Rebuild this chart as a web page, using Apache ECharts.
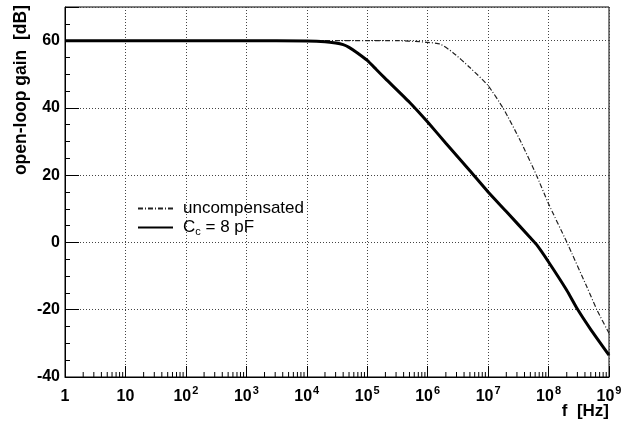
<!DOCTYPE html>
<html>
<head>
<meta charset="utf-8">
<script src="https://cdn.jsdelivr.net/npm/echarts@6/dist/echarts.min.js"></script>
<style>
html,body{margin:0;padding:0;background:#fff;}
#c{width:633px;height:425px;}
</style>
</head>
<body>
<div id="c"></div>
<script>
// Data
var seriesNames = ['uncompensated', 'C_c = 8 pF'];
var uncompFreq = [1, 10, 100, 1e3, 1e4, 1e5, 3e5, 7.4e5, 1e6, 1.6e6, 2.6e6, 5e6, 1e7, 1.8e7, 3.4e7, 6.3e7, 1e8, 2e8, 4.3e8, 6.3e8, 1e9];
var uncompDB   = [60, 60, 60, 60, 60, 60, 60, 59.7, 59.5, 59.0, 56.5, 52.0, 46.6, 39.7, 30.3, 20.0, 11.5, 0.1, -13.2, -20.0, -27.0];
var compFreq = [1, 10, 100, 1e3, 1e4, 2e4, 3e4, 4e4, 5e4, 6.8e4, 1e5, 1.4e5, 2e5, 5e5, 1e6, 2e6, 5e6, 1e7, 2e7, 5e7, 6.3e7, 1e8, 2e8, 3e8, 5e8, 1e9];
var compDB   = [60, 60, 60, 60, 59.9, 59.7, 59.3, 58.8, 58.0, 56.4, 54.1, 51.5, 48.7, 41.7, 35.8, 29.5, 21.3, 15.0, 9.2, 1.4, -0.6, -5.8, -14.2, -19.8, -25.9, -33.5];
var yTicks = [-40, -20, 0, 20, 40, 60];
var xDecades = [0, 1, 2, 3, 4, 5, 6, 7, 8, 9];

function zip(a, b) { return a.map(function (v, i) { return [v, b[i]]; }); }

// minor tick positions on the log axis (2..9 within each decade)
var minorTicks = [];
for (var d = 0; d < xDecades.length - 1; d++) {
  for (var k = 2; k <= 9; k++) minorTicks.push([k * Math.pow(10, xDecades[d]), -40]);
}

var FONT = 'Liberation Sans, Arial, Helvetica, sans-serif';
var chart = echarts.init(document.getElementById('c'), null, {renderer: 'canvas'});
chart.setOption({
  backgroundColor: '#fff',
  animation: false,
  grid: {left: 65, right: 24, top: 7, bottom: 48, show: true, borderColor: '#000', borderWidth: 1, containLabel: false},
  xAxis: {
    type: 'log', logBase: 10, min: 1, max: 1e9, splitNumber: 9,
    axisLine: {onZero: false, lineStyle: {color: '#000', width: 1}},
    axisTick: {inside: true, length: 11, lineStyle: {color: '#000'}},
    splitLine: {show: true, lineStyle: {color: '#444', type: [1, 2], width: 1}},
    axisLabel: {
      margin: 8, color: '#000', fontFamily: FONT,
      formatter: function (v) {
        var e = Math.round(Math.log10(v));
        if (e === 0) return '{b|1}';
        if (e === 1) return '{b|10}';
        return '{b|10}{s|' + e + '}';
      },
      rich: {
        b: {fontSize: 16, fontWeight: 'bold', fontFamily: FONT, color: '#000', verticalAlign: 'bottom', lineHeight: 20},
        s: {fontSize: 11, fontWeight: 'bold', fontFamily: FONT, color: '#000', verticalAlign: 'top', lineHeight: 11, padding: [0, 0, 0, 1]}
      }
    }
  },
  yAxis: [{
    type: 'value', min: -40, max: 70, interval: 20,
    axisLine: {show: true, lineStyle: {color: '#000', width: 1}},
    axisTick: {show: true, inside: true, length: 14, lineStyle: {color: '#000'}},
    splitLine: {show: true, lineStyle: {color: '#444', type: [1, 2], width: 1}},
    axisLabel: {
      margin: 5, color: '#000', fontSize: 16, fontWeight: 'bold', fontFamily: FONT,
      formatter: function (v) { return yTicks.indexOf(v) >= 0 ? String(v) : ''; }
    }
  }, {
    type: 'value', min: -40, max: 70, interval: 5, position: 'left',
    axisLine: {show: false}, axisLabel: {show: false}, splitLine: {show: false},
    axisTick: {show: true, inside: true, length: 5, lineStyle: {color: '#000'}}
  }],
  legend: {
    orient: 'vertical', left: 137, top: 200, padding: 0, itemWidth: 35, itemHeight: 12, itemGap: 2,
    data: seriesNames,
    itemStyle: {opacity: 0},
    textStyle: {
      fontSize: 17, fontFamily: FONT, color: '#000', padding: [0, 0, 0, 5],
      rich: {
        n: {fontSize: 17, fontFamily: FONT, color: '#000'},
        sub: {fontSize: 11, fontFamily: FONT, color: '#000', verticalAlign: 'bottom', padding: [8, 0, 0, 0]}
      }
    },
    formatter: function (name) {
      if (name === 'C_c = 8 pF') return '{n|C}{sub|c}{n| = 8 pF}';
      return name;
    }
  },
  graphic: [
    {type: 'text', x: 609, y: 411, style: {text: 'f  [Hz]', fontSize: 17, fontWeight: 'bold', fontFamily: FONT, fill: '#000', align: 'right', verticalAlign: 'middle'}},
    {type: 'text', x: 21, y: 5, rotation: Math.PI / 2, style: {text: 'open-loop gain  [dB]', fontSize: 17.5, fontWeight: 'bold', fontFamily: FONT, fill: '#000', align: 'right', verticalAlign: 'middle'}}
  ],
  series: [
    {
      name: seriesNames[0], type: 'line', data: zip(uncompFreq, uncompDB), showSymbol: false, symbol: 'none', smooth: 0.2,
      lineStyle: {color: '#222', width: 1.2, type: [5, 2, 1, 2]}, itemStyle: {color: '#222'}, z: 3
    },
    {
      name: seriesNames[1], type: 'line', data: zip(compFreq, compDB), showSymbol: false, symbol: 'none', smooth: 0.15,
      lineStyle: {color: '#000', width: 3}, itemStyle: {color: '#000'}, z: 4
    },
    {
      type: 'custom', silent: true, data: minorTicks, clip: false, z: 5,
      renderItem: function (params, api) {
        var p = api.coord([api.value(0), api.value(1)]);
        return {type: 'line', shape: {x1: p[0], y1: p[1], x2: p[0], y2: p[1] - 5}, style: {stroke: '#000', lineWidth: 1}};
      }
    }
  ]
});
</script>
</body>
</html>
